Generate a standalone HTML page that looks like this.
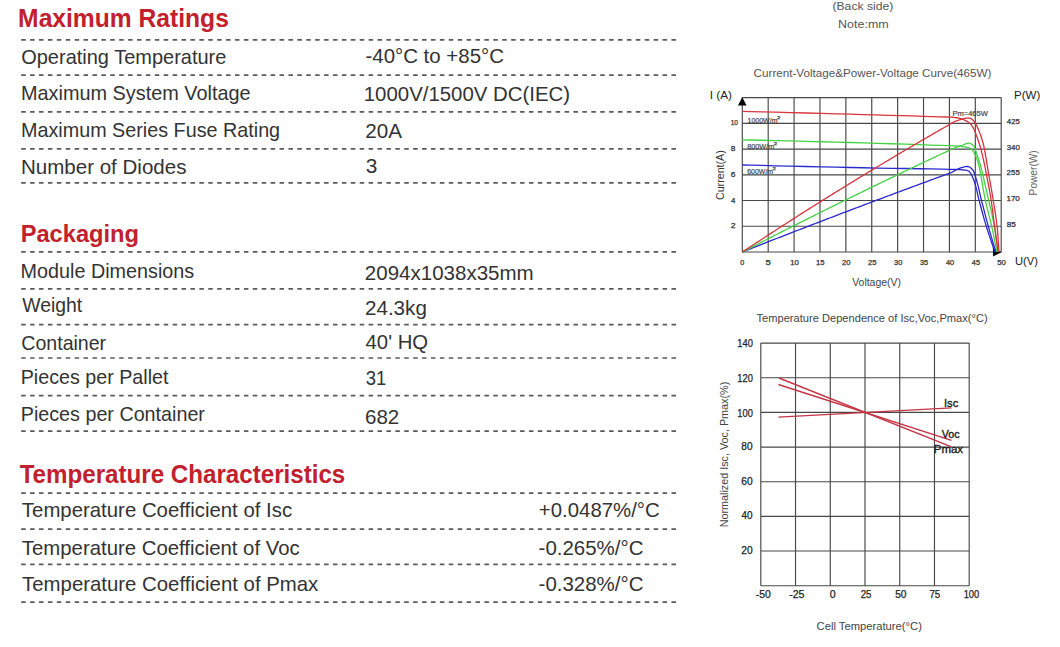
<!DOCTYPE html>
<html><head><meta charset="utf-8"><style>
html,body{margin:0;padding:0;background:#fff;width:1060px;height:647px;overflow:hidden}
svg{display:block;font-family:"Liberation Sans",sans-serif}
</style></head><body>
<svg width="1060" height="647" viewBox="0 0 1060 647">
<rect width="1060" height="647" fill="#fff"/>
<line x1="21.2" y1="39.9" x2="676.5" y2="39.9" stroke="#5a5a5a" stroke-width="1.7" stroke-dasharray="4.5 4.408"/>
<line x1="21.2" y1="75.1" x2="676.5" y2="75.1" stroke="#5a5a5a" stroke-width="1.7" stroke-dasharray="4.5 4.408"/>
<line x1="21.2" y1="111.8" x2="676.5" y2="111.8" stroke="#5a5a5a" stroke-width="1.7" stroke-dasharray="4.5 4.408"/>
<line x1="21.2" y1="148.8" x2="676.5" y2="148.8" stroke="#5a5a5a" stroke-width="1.7" stroke-dasharray="4.5 4.408"/>
<line x1="21.2" y1="182.8" x2="676.5" y2="182.8" stroke="#5a5a5a" stroke-width="1.7" stroke-dasharray="4.5 4.408"/>
<line x1="21.2" y1="251.9" x2="676.5" y2="251.9" stroke="#5a5a5a" stroke-width="1.7" stroke-dasharray="4.5 4.408"/>
<line x1="21.2" y1="288.8" x2="676.5" y2="288.8" stroke="#5a5a5a" stroke-width="1.7" stroke-dasharray="4.5 4.408"/>
<line x1="21.2" y1="324.6" x2="676.5" y2="324.6" stroke="#5a5a5a" stroke-width="1.7" stroke-dasharray="4.5 4.408"/>
<line x1="21.2" y1="358.0" x2="676.5" y2="358.0" stroke="#5a5a5a" stroke-width="1.7" stroke-dasharray="4.5 4.408"/>
<line x1="21.2" y1="395.6" x2="676.5" y2="395.6" stroke="#5a5a5a" stroke-width="1.7" stroke-dasharray="4.5 4.408"/>
<line x1="21.2" y1="431.2" x2="676.5" y2="431.2" stroke="#5a5a5a" stroke-width="1.7" stroke-dasharray="4.5 4.408"/>
<line x1="21.2" y1="493.1" x2="676.5" y2="493.1" stroke="#5a5a5a" stroke-width="1.7" stroke-dasharray="4.5 4.408"/>
<line x1="21.2" y1="529.1" x2="676.5" y2="529.1" stroke="#5a5a5a" stroke-width="1.7" stroke-dasharray="4.5 4.408"/>
<line x1="21.2" y1="564.3" x2="676.5" y2="564.3" stroke="#5a5a5a" stroke-width="1.7" stroke-dasharray="4.5 4.408"/>
<line x1="21.2" y1="602.1" x2="676.5" y2="602.1" stroke="#5a5a5a" stroke-width="1.7" stroke-dasharray="4.5 4.408"/>
<path d="M742.30 97.6V252.0 M768.19 97.6V252.0 M794.08 97.6V252.0 M819.97 97.6V252.0 M845.86 97.6V252.0 M871.75 97.6V252.0 M897.64 97.6V252.0 M923.53 97.6V252.0 M949.42 97.6V252.0 M975.31 97.6V252.0 M1001.20 97.6V252.0 M742.3 97.60H1001.2 M742.3 123.33H1001.2 M742.3 149.07H1001.2 M742.3 174.80H1001.2 M742.3 200.53H1001.2 M742.3 226.27H1001.2 M742.3 252.00H1001.2" stroke="#484848" stroke-width="1.15" fill="none"/>
<path d="M742.2 97.2 L738.0 105.4 L746.6 105.4 Z" fill="#000"/>
<path d="M1001.5 252.2 L992.8 247.6 L993.2 256.4 Z" fill="#000"/>
<polyline points="742.30,165.00 750.66,165.20 761.83,165.47 775.14,165.79 789.90,166.14 805.44,166.50 821.09,166.87 836.17,167.20 850.00,167.50 863.47,167.77 877.60,168.03 891.93,168.28 905.98,168.52 919.28,168.74 931.37,168.95 941.76,169.14 950.00,169.30 955.76,169.43 959.34,169.53 961.24,169.61 961.92,169.68 961.86,169.73 961.53,169.78 961.42,169.83 962.00,169.90 963.00,169.96 963.85,170.01 964.57,170.04 965.21,170.08 965.77,170.14 966.29,170.22 966.79,170.33 967.30,170.50 967.80,170.71 968.24,170.94 968.65,171.19 969.02,171.48 969.38,171.80 969.72,172.16 970.06,172.56 970.40,173.00 970.74,173.48 971.07,174.01 971.39,174.58 971.69,175.18 972.00,175.82 972.30,176.49 972.60,177.18 972.90,177.90 973.21,178.65 973.52,179.44 973.82,180.27 974.13,181.12 974.43,181.99 974.73,182.89 975.02,183.79 975.30,184.70 975.57,185.63 975.84,186.59 976.09,187.56 976.34,188.56 976.59,189.55 976.83,190.55 977.07,191.53 977.30,192.50 977.49,193.32 977.61,193.96 977.71,194.51 977.82,195.09 977.97,195.82 978.19,196.81 978.52,198.16 979.00,200.00 979.64,202.39 980.40,205.27 981.27,208.51 982.22,212.01 983.22,215.66 984.25,219.33 985.29,222.91 986.30,226.30 987.37,229.72 988.56,233.37 989.81,237.11 991.06,240.79 992.25,244.27 993.32,247.40 994.23,250.02 994.90,252.00" stroke="#2a2ad0" stroke-width="1.3" fill="none" stroke-linejoin="round"/>
<polyline points="742.30,252.00 743.46,251.54 745.00,250.94 746.83,250.21 748.86,249.41 751.02,248.56 753.20,247.70 755.32,246.87 757.30,246.09 759.17,245.35 761.05,244.62 762.92,243.88 764.80,243.14 766.67,242.41 768.55,241.68 770.42,240.94 772.30,240.21 774.17,239.48 776.05,238.74 777.92,238.01 779.80,237.28 781.67,236.55 783.55,235.82 785.42,235.09 787.30,234.36 789.17,233.63 791.05,232.91 792.92,232.18 794.80,231.45 796.67,230.73 798.55,230.00 800.42,229.27 802.30,228.55 804.17,227.82 806.05,227.10 807.92,226.38 809.80,225.65 811.67,224.93 813.55,224.21 815.42,223.49 817.30,222.77 819.17,222.05 821.05,221.33 822.92,220.61 824.80,219.89 826.67,219.17 828.55,218.45 830.42,217.74 832.30,217.02 834.17,216.30 836.05,215.59 837.92,214.87 839.80,214.16 841.67,213.44 843.55,212.73 845.42,212.02 847.30,211.30 849.17,210.59 851.05,209.88 852.92,209.17 854.80,208.46 856.67,207.75 858.55,207.04 860.42,206.33 862.30,205.62 864.17,204.91 866.05,204.20 867.92,203.50 869.80,202.79 871.67,202.08 873.55,201.38 875.42,200.67 877.30,199.97 879.17,199.27 881.05,198.56 882.92,197.86 884.80,197.16 886.67,196.45 888.55,195.75 890.42,195.05 892.30,194.35 894.17,193.65 896.05,192.95 897.92,192.25 899.80,191.55 901.67,190.86 903.55,190.16 905.42,189.46 907.30,188.77 909.17,188.07 911.05,187.37 912.92,186.68 914.80,185.99 916.67,185.29 918.55,184.60 920.42,183.91 922.30,183.21 924.19,182.52 926.10,181.81 928.03,181.10 929.94,180.40 931.84,179.70 933.71,179.01 935.54,178.34 937.30,177.69 939.04,177.06 940.77,176.44 942.49,175.83 944.16,175.24 945.77,174.66 947.29,174.10 948.71,173.56 950.00,173.04 951.14,172.55 952.15,172.07 953.05,171.61 953.87,171.16 954.63,170.74 955.35,170.34 956.07,169.96 956.80,169.60 957.52,169.27 958.20,168.95 958.84,168.67 959.46,168.40 960.07,168.15 960.69,167.92 961.33,167.70 962.00,167.50 962.72,167.30 963.48,167.10 964.26,166.90 965.04,166.73 965.82,166.59 966.56,166.50 967.26,166.46 967.90,166.50 968.48,166.61 969.01,166.79 969.50,167.02 969.96,167.31 970.40,167.62 970.81,167.97 971.21,168.33 971.60,168.70 971.97,169.06 972.31,169.42 972.63,169.79 972.93,170.19 973.22,170.63 973.50,171.14 973.80,171.72 974.10,172.40 974.41,173.19 974.73,174.07 975.04,175.03 975.36,176.05 975.67,177.12 975.98,178.21 976.29,179.31 976.60,180.40 976.91,181.50 977.21,182.62 977.51,183.77 977.81,184.93 978.11,186.11 978.41,187.30 978.71,188.50 979.00,189.70 979.26,190.79 979.47,191.74 979.66,192.63 979.86,193.56 980.10,194.63 980.40,195.93 980.79,197.55 981.30,199.60 981.95,202.14 982.71,205.12 983.56,208.43 984.47,211.96 985.43,215.62 986.40,219.30 987.37,222.90 988.30,226.30 989.26,229.74 990.32,233.40 991.41,237.14 992.49,240.82 993.51,244.29 994.44,247.41 995.22,250.02 995.80,252.00" stroke="#2a2ad0" stroke-width="1.3" fill="none" stroke-linejoin="round"/>
<polyline points="742.30,139.80 750.67,140.00 761.86,140.27 775.18,140.59 789.96,140.95 805.52,141.33 821.16,141.73 836.22,142.12 850.00,142.50 863.38,142.89 877.38,143.32 891.54,143.76 905.42,144.21 918.56,144.65 930.50,145.05 940.80,145.41 949.00,145.70 954.79,145.92 958.48,146.09 960.53,146.21 961.38,146.31 961.49,146.38 961.33,146.44 961.35,146.51 962.00,146.60 963.02,146.69 963.85,146.78 964.53,146.86 965.09,146.93 965.59,147.01 966.04,147.09 966.50,147.19 967.00,147.30 967.51,147.41 967.99,147.52 968.44,147.63 968.88,147.74 969.29,147.88 969.70,148.05 970.10,148.25 970.50,148.50 970.90,148.79 971.30,149.12 971.68,149.48 972.06,149.87 972.43,150.29 972.80,150.73 973.15,151.20 973.50,151.70 973.84,152.21 974.16,152.75 974.47,153.30 974.78,153.89 975.08,154.50 975.39,155.16 975.69,155.86 976.00,156.60 976.32,157.40 976.64,158.26 976.97,159.16 977.29,160.10 977.61,161.06 977.92,162.04 978.22,163.02 978.50,164.00 978.74,164.84 978.92,165.51 979.09,166.12 979.24,166.77 979.42,167.58 979.64,168.67 979.93,170.14 980.30,172.10 980.76,174.65 981.29,177.72 981.88,181.18 982.51,184.91 983.18,188.78 983.88,192.67 984.59,196.45 985.30,200.00 986.04,203.37 986.83,206.70 987.65,210.01 988.49,213.29 989.33,216.55 990.15,219.80 990.95,223.05 991.70,226.30 992.44,229.72 993.21,233.37 993.97,237.11 994.70,240.79 995.38,244.27 995.99,247.40 996.51,250.02 996.90,252.00" stroke="#44d244" stroke-width="1.3" fill="none" stroke-linejoin="round"/>
<polyline points="742.30,252.00 743.46,251.41 745.00,250.61 746.83,249.67 748.86,248.63 751.02,247.52 753.20,246.40 755.32,245.31 757.30,244.29 759.17,243.33 761.05,242.38 762.92,241.42 764.80,240.46 766.67,239.50 768.55,238.55 770.42,237.59 772.30,236.64 774.17,235.69 776.05,234.74 777.92,233.78 779.80,232.83 781.67,231.88 783.55,230.93 785.42,229.99 787.30,229.04 789.17,228.09 791.05,227.15 792.92,226.20 794.80,225.26 796.67,224.32 798.55,223.37 800.42,222.43 802.30,221.49 804.17,220.55 806.05,219.61 807.92,218.67 809.80,217.74 811.67,216.80 813.55,215.86 815.42,214.93 817.30,214.00 819.17,213.06 821.05,212.13 822.92,211.20 824.80,210.27 826.67,209.34 828.55,208.41 830.42,207.48 832.30,206.55 834.17,205.63 836.05,204.70 837.92,203.78 839.80,202.85 841.67,201.93 843.55,201.01 845.42,200.08 847.30,199.16 849.17,198.24 851.05,197.32 852.92,196.40 854.80,195.49 856.67,194.57 858.55,193.65 860.42,192.74 862.30,191.82 864.17,190.91 866.05,190.00 867.92,189.09 869.80,188.18 871.67,187.27 873.55,186.36 875.42,185.45 877.30,184.54 879.17,183.63 881.05,182.73 882.92,181.82 884.80,180.92 886.67,180.01 888.55,179.11 890.42,178.21 892.30,177.31 894.17,176.41 896.05,175.51 897.92,174.61 899.80,173.71 901.67,172.81 903.55,171.92 905.42,171.02 907.30,170.13 909.17,169.23 911.05,168.34 912.92,167.45 914.80,166.56 916.67,165.67 918.55,164.78 920.42,163.89 922.30,163.00 924.17,162.11 926.05,161.23 927.92,160.34 929.80,159.46 931.67,158.57 933.55,157.69 935.42,156.81 937.30,155.93 939.26,155.01 941.34,154.03 943.47,153.04 945.57,152.05 947.58,151.11 949.41,150.25 951.01,149.51 952.30,148.90 953.20,148.48 953.74,148.21 954.02,148.06 954.15,147.98 954.21,147.94 954.31,147.90 954.54,147.82 955.00,147.65 955.67,147.40 956.46,147.13 957.33,146.84 958.26,146.53 959.22,146.22 960.18,145.90 961.11,145.59 962.00,145.30 962.86,144.99 963.73,144.64 964.61,144.28 965.47,143.92 966.31,143.60 967.12,143.34 967.89,143.17 968.60,143.10 969.26,143.15 969.89,143.31 970.49,143.54 971.04,143.84 971.56,144.17 972.05,144.52 972.49,144.87 972.90,145.20 973.25,145.50 973.55,145.79 973.79,146.08 974.01,146.39 974.20,146.72 974.39,147.09 974.58,147.52 974.80,148.00 975.02,148.53 975.23,149.10 975.43,149.70 975.62,150.34 975.83,151.04 976.06,151.79 976.31,152.61 976.60,153.50 976.93,154.48 977.30,155.56 977.69,156.71 978.11,157.91 978.52,159.15 978.94,160.39 979.33,161.61 979.70,162.80 980.01,163.84 980.28,164.69 980.51,165.47 980.74,166.29 981.00,167.25 981.31,168.47 981.70,170.05 982.20,172.10 982.82,174.71 983.54,177.80 984.34,181.27 985.19,184.99 986.07,188.84 986.95,192.70 987.80,196.46 988.60,200.00 989.37,203.37 990.15,206.70 990.92,210.01 991.69,213.29 992.43,216.55 993.13,219.80 993.79,223.05 994.40,226.30 994.96,229.72 995.50,233.37 996.00,237.11 996.46,240.79 996.88,244.27 997.25,247.40 997.55,250.02 997.80,252.00" stroke="#44d244" stroke-width="1.3" fill="none" stroke-linejoin="round"/>
<polyline points="742.30,111.30 750.73,111.53 762.07,111.83 775.58,112.19 790.52,112.59 806.18,113.01 821.80,113.43 836.65,113.83 850.00,114.20 862.61,114.55 875.50,114.91 888.34,115.28 900.79,115.63 912.52,115.97 923.19,116.28 932.46,116.56 940.00,116.80 945.52,116.98 949.21,117.11 951.47,117.20 952.68,117.27 953.25,117.33 953.56,117.39 954.02,117.48 955.00,117.60 956.27,117.74 957.33,117.87 958.24,118.01 959.04,118.17 959.78,118.35 960.51,118.55 961.27,118.80 962.10,119.10 963.01,119.44 963.94,119.83 964.89,120.24 965.83,120.69 966.74,121.18 967.62,121.69 968.45,122.23 969.20,122.80 969.88,123.40 970.50,124.02 971.07,124.68 971.60,125.37 972.10,126.08 972.58,126.83 973.04,127.60 973.50,128.40 973.94,129.21 974.35,130.03 974.72,130.88 975.09,131.75 975.45,132.67 975.81,133.64 976.19,134.68 976.60,135.80 977.04,137.01 977.49,138.29 977.97,139.64 978.44,141.05 978.92,142.50 979.40,143.98 979.86,145.49 980.30,147.00 980.73,148.53 981.14,150.08 981.55,151.67 981.94,153.28 982.34,154.92 982.73,156.58 983.11,158.28 983.50,160.00 983.87,161.69 984.23,163.32 984.57,164.94 984.91,166.61 985.27,168.37 985.64,170.28 986.05,172.39 986.50,174.75 987.01,177.40 987.56,180.30 988.16,183.40 988.77,186.65 989.39,189.99 989.99,193.37 990.57,196.72 991.10,200.00 991.59,203.24 992.05,206.52 992.49,209.81 992.91,213.12 993.33,216.44 993.74,219.74 994.17,223.03 994.60,226.30 995.07,229.72 995.58,233.37 996.10,237.11 996.62,240.79 997.11,244.27 997.55,247.40 997.92,250.02 998.20,252.00" stroke="#d8343c" stroke-width="1.3" fill="none" stroke-linejoin="round"/>
<polyline points="742.30,252.00 743.46,251.24 745.00,250.23 746.83,249.02 748.86,247.68 751.02,246.27 753.20,244.83 755.32,243.44 757.30,242.14 759.17,240.92 761.05,239.70 762.92,238.47 764.80,237.25 766.67,236.03 768.55,234.82 770.42,233.60 772.30,232.39 774.17,231.17 776.05,229.96 777.92,228.75 779.80,227.54 781.67,226.34 783.55,225.13 785.42,223.93 787.30,222.73 789.17,221.53 791.05,220.33 792.92,219.13 794.80,217.93 796.67,216.74 798.55,215.54 800.42,214.35 802.30,213.16 804.17,211.97 806.05,210.79 807.92,209.60 809.80,208.42 811.67,207.24 813.55,206.06 815.42,204.88 817.30,203.70 819.17,202.52 821.05,201.35 822.92,200.17 824.80,199.00 826.67,197.83 828.55,196.66 830.42,195.50 832.30,194.33 834.17,193.17 836.05,192.00 837.92,190.84 839.80,189.68 841.67,188.53 843.55,187.37 845.42,186.21 847.30,185.06 849.17,183.91 851.05,182.76 852.92,181.61 854.80,180.46 856.67,179.32 858.55,178.17 860.42,177.03 862.30,175.89 864.17,174.75 866.05,173.61 867.92,172.47 869.80,171.34 871.67,170.21 873.55,169.07 875.42,167.94 877.30,166.81 879.17,165.69 881.05,164.56 882.92,163.44 884.80,162.31 886.67,161.19 888.55,160.07 890.42,158.95 892.30,157.84 894.17,156.72 896.05,155.61 897.92,154.50 899.80,153.39 901.67,152.28 903.55,151.17 905.42,150.06 907.30,148.96 909.17,147.86 911.05,146.75 912.92,145.65 914.80,144.56 916.67,143.46 918.55,142.36 920.42,141.27 922.30,140.18 924.17,139.09 926.05,138.00 927.92,136.91 929.80,135.82 931.67,134.74 933.55,133.65 935.42,132.57 937.30,131.49 939.26,130.37 941.34,129.17 943.47,127.96 945.57,126.75 947.58,125.61 949.41,124.56 951.01,123.64 952.30,122.91 953.20,122.38 953.74,122.04 954.02,121.85 954.14,121.74 954.21,121.69 954.30,121.64 954.54,121.55 955.00,121.37 955.70,121.11 956.54,120.82 957.48,120.51 958.48,120.20 959.48,119.88 960.45,119.59 961.34,119.32 962.10,119.10 962.74,118.91 963.29,118.75 963.77,118.61 964.21,118.50 964.63,118.40 965.06,118.32 965.51,118.25 966.00,118.20 966.54,118.16 967.12,118.12 967.71,118.10 968.31,118.09 968.90,118.12 969.47,118.17 970.01,118.26 970.50,118.40 970.95,118.59 971.38,118.83 971.77,119.11 972.15,119.43 972.51,119.76 972.85,120.11 973.18,120.46 973.50,120.80 973.79,121.11 974.04,121.37 974.27,121.62 974.48,121.89 974.71,122.22 974.96,122.62 975.25,123.14 975.60,123.80 976.02,124.59 976.48,125.48 976.98,126.47 977.51,127.54 978.06,128.71 978.61,129.96 979.16,131.29 979.70,132.70 980.22,134.14 980.75,135.58 981.28,137.08 981.81,138.67 982.34,140.42 982.89,142.35 983.44,144.53 984.00,147.00 984.58,149.84 985.17,153.05 985.78,156.53 986.39,160.19 987.01,163.94 987.62,167.67 988.22,171.31 988.80,174.75 989.37,178.02 989.94,181.21 990.50,184.36 991.06,187.47 991.60,190.56 992.14,193.67 992.68,196.81 993.20,200.00 993.73,203.24 994.26,206.52 994.79,209.81 995.31,213.12 995.81,216.44 996.28,219.74 996.71,223.03 997.10,226.30 997.45,229.72 997.76,233.37 998.04,237.11 998.29,240.79 998.51,244.27 998.71,247.40 998.87,250.02 999.00,252.00" stroke="#d8343c" stroke-width="1.3" fill="none" stroke-linejoin="round"/>
<path d="M760.80 343.1V585.7 M795.53 343.1V585.7 M830.27 343.1V585.7 M865.00 343.1V585.7 M899.73 343.1V585.7 M934.47 343.1V585.7 M969.20 343.1V585.7 M760.8 343.10H969.2 M760.8 377.76H969.2 M760.8 412.41H969.2 M760.8 447.07H969.2 M760.8 481.73H969.2 M760.8 516.39H969.2 M760.8 551.04H969.2 M760.8 585.70H969.2" stroke="#484848" stroke-width="1.15" fill="none"/>
<line x1="778.4" y1="417.2" x2="951.5" y2="407.9" stroke="#c43444" stroke-width="1.35"/>
<line x1="778.4" y1="384.5" x2="951.5" y2="440.3" stroke="#c43444" stroke-width="1.35"/>
<line x1="779.0" y1="378.0" x2="951.5" y2="446.8" stroke="#c43444" stroke-width="1.35"/>
<text x="18.12" y="26.7" font-size="25.2" font-weight="bold" fill="#c1202c" textLength="210.77" lengthAdjust="spacingAndGlyphs">Maximum Ratings</text>
<text x="21.20" y="63.7" font-size="20.3" font-weight="normal" fill="#333333" textLength="205.22" lengthAdjust="spacingAndGlyphs">Operating Temperature</text>
<text x="21.01" y="100.1" font-size="20.3" font-weight="normal" fill="#333333" textLength="229.61" lengthAdjust="spacingAndGlyphs">Maximum System Voltage</text>
<text x="21.02" y="137.2" font-size="20.3" font-weight="normal" fill="#333333" textLength="259.09" lengthAdjust="spacingAndGlyphs">Maximum Series Fuse Rating</text>
<text x="20.96" y="174.0" font-size="20.3" font-weight="normal" fill="#333333" textLength="165.46" lengthAdjust="spacingAndGlyphs">Number of Diodes</text>
<text x="365.48" y="63.3" font-size="20.3" font-weight="normal" fill="#333333" textLength="138.47" lengthAdjust="spacingAndGlyphs">-40°C to +85°C</text>
<text x="363.77" y="100.7" font-size="20.3" font-weight="normal" fill="#333333" textLength="206.31" lengthAdjust="spacingAndGlyphs">1000V/1500V DC(IEC)</text>
<text x="365.27" y="137.5" font-size="20.3" font-weight="normal" fill="#333333" textLength="36.77" lengthAdjust="spacingAndGlyphs">20A</text>
<text x="365.68" y="173.4" font-size="20.3" font-weight="normal" fill="#333333" textLength="11.58" lengthAdjust="spacingAndGlyphs">3</text>
<text x="20.68" y="241.8" font-size="24.2" font-weight="bold" fill="#c1202c" textLength="118.36" lengthAdjust="spacingAndGlyphs">Packaging</text>
<text x="20.62" y="278.1" font-size="20.3" font-weight="normal" fill="#333333" textLength="173.57" lengthAdjust="spacingAndGlyphs">Module Dimensions</text>
<text x="22.30" y="311.9" font-size="20.3" font-weight="normal" fill="#333333" textLength="59.96" lengthAdjust="spacingAndGlyphs">Weight</text>
<text x="21.32" y="349.8" font-size="20.3" font-weight="normal" fill="#333333" textLength="84.83" lengthAdjust="spacingAndGlyphs">Container</text>
<text x="20.73" y="383.5" font-size="20.3" font-weight="normal" fill="#333333" textLength="147.73" lengthAdjust="spacingAndGlyphs">Pieces per Pallet</text>
<text x="20.72" y="421.1" font-size="20.3" font-weight="normal" fill="#333333" textLength="184.23" lengthAdjust="spacingAndGlyphs">Pieces per Container</text>
<text x="364.87" y="280.1" font-size="20.3" font-weight="normal" fill="#333333" textLength="168.82" lengthAdjust="spacingAndGlyphs">2094x1038x35mm</text>
<text x="364.97" y="315.1" font-size="20.3" font-weight="normal" fill="#333333" textLength="61.89" lengthAdjust="spacingAndGlyphs">24.3kg</text>
<text x="365.59" y="349.1" font-size="20.3" font-weight="normal" fill="#333333" textLength="62.58" lengthAdjust="spacingAndGlyphs">40' HQ</text>
<text x="365.65" y="385.3" font-size="20.3" font-weight="normal" fill="#333333" textLength="20.50" lengthAdjust="spacingAndGlyphs">31</text>
<text x="364.97" y="424.0" font-size="20.3" font-weight="normal" fill="#333333" textLength="34.28" lengthAdjust="spacingAndGlyphs">682</text>
<text x="19.66" y="482.7" font-size="25.0" font-weight="bold" fill="#c1202c" textLength="325.61" lengthAdjust="spacingAndGlyphs">Temperature Characteristics</text>
<text x="21.89" y="517.3" font-size="20.3" font-weight="normal" fill="#333333" textLength="270.21" lengthAdjust="spacingAndGlyphs">Temperature Coefficient of Isc</text>
<text x="21.89" y="554.6" font-size="20.3" font-weight="normal" fill="#333333" textLength="277.81" lengthAdjust="spacingAndGlyphs">Temperature Coefficient of Voc</text>
<text x="22.09" y="591.2" font-size="20.3" font-weight="normal" fill="#333333" textLength="296.21" lengthAdjust="spacingAndGlyphs">Temperature Coefficient of Pmax</text>
<text x="538.89" y="517.4" font-size="20.3" font-weight="normal" fill="#333333" textLength="120.77" lengthAdjust="spacingAndGlyphs">+0.0487%/°C</text>
<text x="538.58" y="554.7" font-size="20.3" font-weight="normal" fill="#333333" textLength="104.88" lengthAdjust="spacingAndGlyphs">-0.265%/°C</text>
<text x="538.58" y="591.2" font-size="20.3" font-weight="normal" fill="#333333" textLength="104.88" lengthAdjust="spacingAndGlyphs">-0.328%/°C</text>
<text x="832.47" y="10.2" font-size="10.6" font-weight="normal" fill="#555" textLength="60.77" lengthAdjust="spacingAndGlyphs">(Back side)</text>
<text x="838.10" y="27.6" font-size="10.6" font-weight="normal" fill="#555" textLength="50.58" lengthAdjust="spacingAndGlyphs">Note:mm</text>
<text x="753.62" y="76.7" font-size="11.6" font-weight="normal" fill="#555" textLength="237.80" lengthAdjust="spacingAndGlyphs">Current-Voltage&amp;Power-Voltage Curve(465W)</text>
<text x="709.84" y="98.6" font-size="10.8" font-weight="normal" fill="#222" textLength="22.18" lengthAdjust="spacingAndGlyphs">I (A)</text>
<text x="1014.08" y="98.6" font-size="10.8" font-weight="normal" fill="#222" textLength="26.13" lengthAdjust="spacingAndGlyphs">P(W)</text>
<text x="1014.92" y="264.7" font-size="10.8" font-weight="normal" fill="#222" textLength="22.98" lengthAdjust="spacingAndGlyphs">U(V)</text>
<text x="852.20" y="286.0" font-size="10.4" font-weight="normal" fill="#444" textLength="48.75" lengthAdjust="spacingAndGlyphs">Voltage(V)</text>
<text transform="translate(724.40,199.50) rotate(-90)" x="-0.53" y="0" font-size="11.0" font-weight="normal" fill="#333" textLength="49.80" lengthAdjust="spacingAndGlyphs">Current(A)</text>
<text transform="translate(1036.50,194.60) rotate(-90)" x="-0.81" y="0" font-size="11.0" font-weight="normal" fill="#666" textLength="45.15" lengthAdjust="spacingAndGlyphs">Power(W)</text>
<text x="740.39" y="264.8" font-size="7.0" font-weight="normal" fill="#333" stroke="#333" stroke-width="0.25" textLength="3.97" lengthAdjust="spacingAndGlyphs">0</text>
<text x="765.62" y="264.8" font-size="7.0" font-weight="normal" fill="#333" stroke="#333" stroke-width="0.25" textLength="5.33" lengthAdjust="spacingAndGlyphs">5</text>
<text x="790.26" y="264.8" font-size="7.0" font-weight="normal" fill="#333" stroke="#333" stroke-width="0.25" textLength="8.62" lengthAdjust="spacingAndGlyphs">10</text>
<text x="816.06" y="264.8" font-size="7.0" font-weight="normal" fill="#333" stroke="#333" stroke-width="0.25" textLength="8.62" lengthAdjust="spacingAndGlyphs">15</text>
<text x="842.12" y="264.8" font-size="7.0" font-weight="normal" fill="#333" stroke="#333" stroke-width="0.25" textLength="8.45" lengthAdjust="spacingAndGlyphs">20</text>
<text x="868.02" y="264.8" font-size="7.0" font-weight="normal" fill="#333" stroke="#333" stroke-width="0.25" textLength="8.45" lengthAdjust="spacingAndGlyphs">25</text>
<text x="894.08" y="264.8" font-size="7.0" font-weight="normal" fill="#333" stroke="#333" stroke-width="0.25" textLength="8.29" lengthAdjust="spacingAndGlyphs">30</text>
<text x="919.98" y="264.8" font-size="7.0" font-weight="normal" fill="#333" stroke="#333" stroke-width="0.25" textLength="8.29" lengthAdjust="spacingAndGlyphs">35</text>
<text x="945.95" y="264.8" font-size="7.0" font-weight="normal" fill="#333" stroke="#333" stroke-width="0.25" textLength="8.21" lengthAdjust="spacingAndGlyphs">40</text>
<text x="971.85" y="264.8" font-size="7.0" font-weight="normal" fill="#333" stroke="#333" stroke-width="0.25" textLength="8.21" lengthAdjust="spacingAndGlyphs">45</text>
<text x="997.29" y="264.8" font-size="7.0" font-weight="normal" fill="#333" stroke="#333" stroke-width="0.25" textLength="8.59" lengthAdjust="spacingAndGlyphs">50</text>
<text x="730.64" y="124.93333333333332" font-size="7.0" font-weight="normal" fill="#333" stroke="#333" stroke-width="0.25" textLength="7.30" lengthAdjust="spacingAndGlyphs">10</text>
<text x="730.87" y="151.26666666666665" font-size="7.0" font-weight="normal" fill="#333" stroke="#333" stroke-width="0.25" textLength="4.63" lengthAdjust="spacingAndGlyphs">8</text>
<text x="730.77" y="177.0" font-size="7.0" font-weight="normal" fill="#333" stroke="#333" stroke-width="0.25" textLength="4.73" lengthAdjust="spacingAndGlyphs">6</text>
<text x="731.04" y="202.73333333333332" font-size="7.0" font-weight="normal" fill="#333" stroke="#333" stroke-width="0.25" textLength="4.36" lengthAdjust="spacingAndGlyphs">4</text>
<text x="730.77" y="228.46666666666667" font-size="7.0" font-weight="normal" fill="#333" stroke="#333" stroke-width="0.25" textLength="4.84" lengthAdjust="spacingAndGlyphs">2</text>
<text x="1006.84" y="123.93333333333332" font-size="7.0" font-weight="normal" fill="#333" stroke="#333" stroke-width="0.25" textLength="12.94" lengthAdjust="spacingAndGlyphs">425</text>
<text x="1006.77" y="149.66666666666666" font-size="7.0" font-weight="normal" fill="#333" stroke="#333" stroke-width="0.25" textLength="13.02" lengthAdjust="spacingAndGlyphs">340</text>
<text x="1006.61" y="175.4" font-size="7.0" font-weight="normal" fill="#333" stroke="#333" stroke-width="0.25" textLength="13.18" lengthAdjust="spacingAndGlyphs">255</text>
<text x="1006.44" y="201.13333333333333" font-size="7.0" font-weight="normal" fill="#333" stroke="#333" stroke-width="0.25" textLength="13.35" lengthAdjust="spacingAndGlyphs">170</text>
<text x="1006.67" y="226.86666666666667" font-size="7.0" font-weight="normal" fill="#333" stroke="#333" stroke-width="0.25" textLength="9.12" lengthAdjust="spacingAndGlyphs">85</text>
<text x="747.61" y="123.0" font-size="7.6" font-weight="normal" fill="#444" stroke="#444" stroke-width="0.2" textLength="29.83" lengthAdjust="spacingAndGlyphs">1000W/m</text>
<text x="776.90" y="119.0" font-size="4.0" font-weight="normal" fill="#444" stroke="#444" stroke-width="0.25" textLength="3.39" lengthAdjust="spacingAndGlyphs">2</text>
<text x="747.31" y="149.0" font-size="7.6" font-weight="normal" fill="#444" stroke="#444" stroke-width="0.2" textLength="26.95" lengthAdjust="spacingAndGlyphs">800W/m</text>
<text x="773.70" y="145.0" font-size="4.0" font-weight="normal" fill="#444" stroke="#444" stroke-width="0.25" textLength="3.39" lengthAdjust="spacingAndGlyphs">2</text>
<text x="747.25" y="174.4" font-size="7.6" font-weight="normal" fill="#444" stroke="#444" stroke-width="0.2" textLength="25.89" lengthAdjust="spacingAndGlyphs">600W/m</text>
<text x="772.60" y="170.4" font-size="4.0" font-weight="normal" fill="#444" stroke="#444" stroke-width="0.25" textLength="3.39" lengthAdjust="spacingAndGlyphs">2</text>
<text x="952.39" y="116.2" font-size="7.6" font-weight="normal" fill="#444" stroke="#444" stroke-width="0.2" textLength="35.56" lengthAdjust="spacingAndGlyphs">Pm=465W</text>
<text x="756.48" y="322.2" font-size="11.2" font-weight="normal" fill="#444" textLength="231.21" lengthAdjust="spacingAndGlyphs">Temperature Dependence of Isc,Voc,Pmax(°C)</text>
<text x="755.69" y="598.0" font-size="10.0" font-weight="normal" fill="#222" stroke="#222" stroke-width="0.25" textLength="14.99" lengthAdjust="spacingAndGlyphs">-50</text>
<text x="789.18" y="598.0" font-size="10.0" font-weight="normal" fill="#222" stroke="#222" stroke-width="0.25" textLength="15.20" lengthAdjust="spacingAndGlyphs">-25</text>
<text x="829.88" y="598.0" font-size="10.0" font-weight="normal" fill="#222" stroke="#222" stroke-width="0.25" textLength="5.90" lengthAdjust="spacingAndGlyphs">0</text>
<text x="860.72" y="598.0" font-size="10.0" font-weight="normal" fill="#222" stroke="#222" stroke-width="0.25" textLength="10.73" lengthAdjust="spacingAndGlyphs">25</text>
<text x="895.19" y="598.0" font-size="10.0" font-weight="normal" fill="#222" stroke="#222" stroke-width="0.25" textLength="11.27" lengthAdjust="spacingAndGlyphs">50</text>
<text x="929.42" y="598.0" font-size="10.0" font-weight="normal" fill="#222" stroke="#222" stroke-width="0.25" textLength="10.73" lengthAdjust="spacingAndGlyphs">75</text>
<text x="963.65" y="598.0" font-size="10.0" font-weight="normal" fill="#222" stroke="#222" stroke-width="0.25" textLength="15.49" lengthAdjust="spacingAndGlyphs">100</text>
<text x="737.35" y="347.3" font-size="10.0" font-weight="normal" fill="#222" stroke="#222" stroke-width="0.25" textLength="15.49" lengthAdjust="spacingAndGlyphs">140</text>
<text x="737.35" y="381.95714285714286" font-size="10.0" font-weight="normal" fill="#222" stroke="#222" stroke-width="0.25" textLength="15.49" lengthAdjust="spacingAndGlyphs">120</text>
<text x="737.35" y="416.6142857142857" font-size="10.0" font-weight="normal" fill="#222" stroke="#222" stroke-width="0.25" textLength="15.49" lengthAdjust="spacingAndGlyphs">100</text>
<text x="741.39" y="449.9714285714286" font-size="10.0" font-weight="normal" fill="#222" stroke="#222" stroke-width="0.25" textLength="11.27" lengthAdjust="spacingAndGlyphs">80</text>
<text x="741.29" y="484.62857142857143" font-size="10.0" font-weight="normal" fill="#222" stroke="#222" stroke-width="0.25" textLength="11.38" lengthAdjust="spacingAndGlyphs">60</text>
<text x="741.60" y="519.2857142857143" font-size="10.0" font-weight="normal" fill="#222" stroke="#222" stroke-width="0.25" textLength="11.06" lengthAdjust="spacingAndGlyphs">40</text>
<text x="741.29" y="553.9428571428572" font-size="10.0" font-weight="normal" fill="#222" stroke="#222" stroke-width="0.25" textLength="11.38" lengthAdjust="spacingAndGlyphs">20</text>
<text x="816.64" y="630.4" font-size="11.1" font-weight="normal" fill="#444" textLength="105.25" lengthAdjust="spacingAndGlyphs">Cell Temperature(°C)</text>
<text transform="translate(728.20,526.50) rotate(-90)" x="-0.86" y="0" font-size="11.0" font-weight="normal" fill="#444" textLength="145.63" lengthAdjust="spacingAndGlyphs">Normalized Isc, Voc, Pmax(%)</text>
<text x="944.00" y="406.8" font-size="10.3" font-weight="normal" fill="#222" stroke="#222" stroke-width="0.35" textLength="14.22" lengthAdjust="spacingAndGlyphs">Isc</text>
<text x="941.80" y="437.6" font-size="10.3" font-weight="normal" fill="#222" stroke="#222" stroke-width="0.35" textLength="17.81" lengthAdjust="spacingAndGlyphs">Voc</text>
<text x="933.79" y="453.4" font-size="10.3" font-weight="normal" fill="#222" stroke="#222" stroke-width="0.35" textLength="29.23" lengthAdjust="spacingAndGlyphs">Pmax</text>
</svg></body></html>
